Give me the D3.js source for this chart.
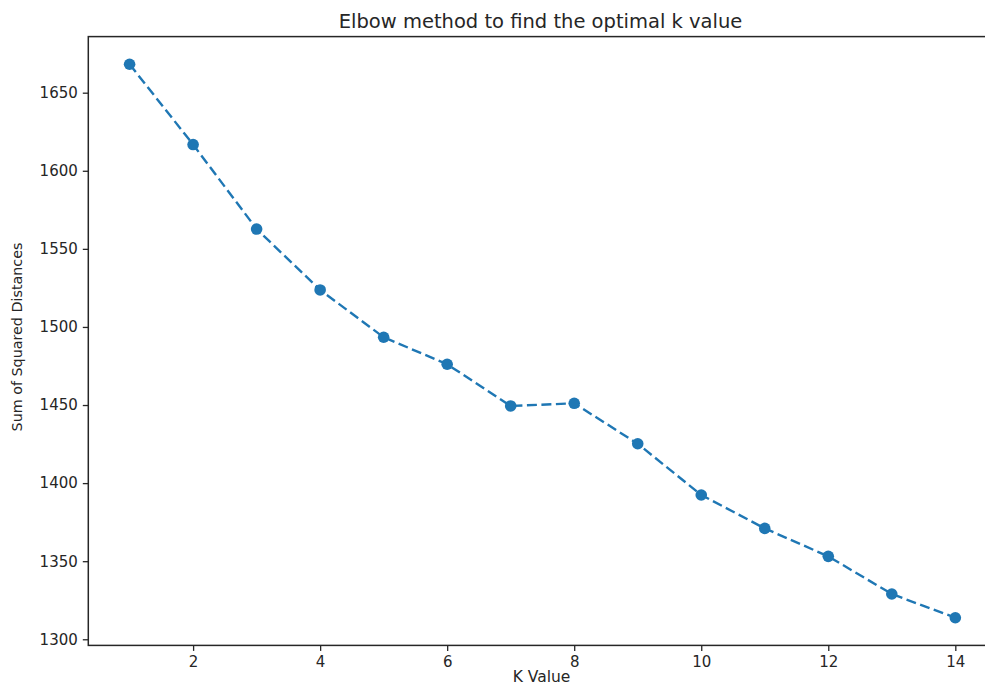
<!DOCTYPE html>
<html>
<head>
<meta charset="utf-8">
<script src="https://cdn.jsdelivr.net/npm/d3@7"></script>
<style>
  html, body { margin: 0; padding: 0; background: #fff; }
  svg { display: block; font-family: "DejaVu Sans", sans-serif; }
</style>
</head>
<body>
<svg id="chart" width="985" height="686"></svg>
<script>
// Number of clusters tried and the resulting inertia (sum of squared distances)
const kValues = [1, 2, 3, 4, 5, 6, 7, 8, 9, 10, 11, 12, 13, 14];
const sse = [1668.2, 1616.8, 1562.7, 1523.7, 1493.4, 1476.1, 1449.4,
             1451.1, 1425.2, 1392.4, 1371.0, 1353.1, 1329.0, 1313.8];
const xTicks = [2, 4, 6, 8, 10, 12, 14];
const yTicks = [1300, 1350, 1400, 1450, 1500, 1550, 1600, 1650];

const titleText = "Elbow method to find the optimal k value";
const xLabel = "K Value";
const yLabel = "Sum of Squared Distances";

const W = 985, H = 686;
const plot = { left: 88.3, right: 996.6, top: 36.6, bottom: 645.4 };
const blue = "#1f77b4";
const ink = "#262626";

// Axis limits padded by 5% on each side
const xMin = d3.min(kValues), xMax = d3.max(kValues);
const yMin = d3.min(sse), yMax = d3.max(sse);
const xPad = (xMax - xMin) * 0.05, yPad = (yMax - yMin) * 0.05;

const x = d3.scaleLinear().domain([xMin - xPad, xMax + xPad]).range([plot.left, plot.right]);
const y = d3.scaleLinear().domain([yMin - yPad, yMax + yPad]).range([plot.bottom, plot.top]);

const svg = d3.select("#chart");

// Data line and markers
const line = d3.line().x((d, i) => x(kValues[i])).y(d => y(d));
svg.append("path")
  .datum(sse)
  .attr("d", line)
  .attr("fill", "none")
  .attr("stroke", blue)
  .attr("stroke-width", 2.4)
  .attr("stroke-dasharray", "10,4.5");

svg.append("g").selectAll("circle")
  .data(sse)
  .join("circle")
  .attr("cx", (d, i) => x(kValues[i]))
  .attr("cy", d => y(d))
  .attr("r", 5.8)
  .attr("fill", blue);

// Axes
const xAxis = d3.axisBottom(x).tickValues(xTicks).tickFormat(d3.format("d"))
  .tickSize(5.5).tickPadding(5).tickSizeOuter(0);
const yAxis = d3.axisLeft(y).tickValues(yTicks).tickFormat(d3.format("d"))
  .tickSize(5.5).tickPadding(5).tickSizeOuter(0);

const gx = svg.append("g").attr("transform", `translate(0,${plot.bottom})`).call(xAxis);
const gy = svg.append("g").attr("transform", `translate(${plot.left},0)`).call(yAxis);

[gx, gy].forEach(g => {
  g.select(".domain").remove();
  g.selectAll(".tick line").attr("stroke", ink).attr("stroke-width", 1.3);
  g.selectAll(".tick text").attr("fill", ink).attr("font-size", 15).attr("font-family", "DejaVu Sans, sans-serif");
});

// Frame (spines)
svg.append("rect")
  .attr("x", plot.left).attr("y", plot.top)
  .attr("width", plot.right - plot.left).attr("height", plot.bottom - plot.top)
  .attr("fill", "none").attr("stroke", ink).attr("stroke-width", 1.5);

// Title and axis labels
svg.append("text")
  .attr("x", 540.5)
  .attr("y", 27.5)
  .attr("text-anchor", "middle")
  .attr("font-size", 19.5)
  .attr("fill", ink)
  .text(titleText);

svg.append("text")
  .attr("x", 541.5)
  .attr("y", 682)
  .attr("text-anchor", "middle")
  .attr("font-size", 15.5)
  .attr("fill", ink)
  .text(xLabel);

svg.append("text")
  .attr("transform", `translate(22,${337}) rotate(-90)`)
  .attr("text-anchor", "middle")
  .attr("font-size", 14.3)
  .attr("fill", ink)
  .text(yLabel);
</script>
</body>
</html>
